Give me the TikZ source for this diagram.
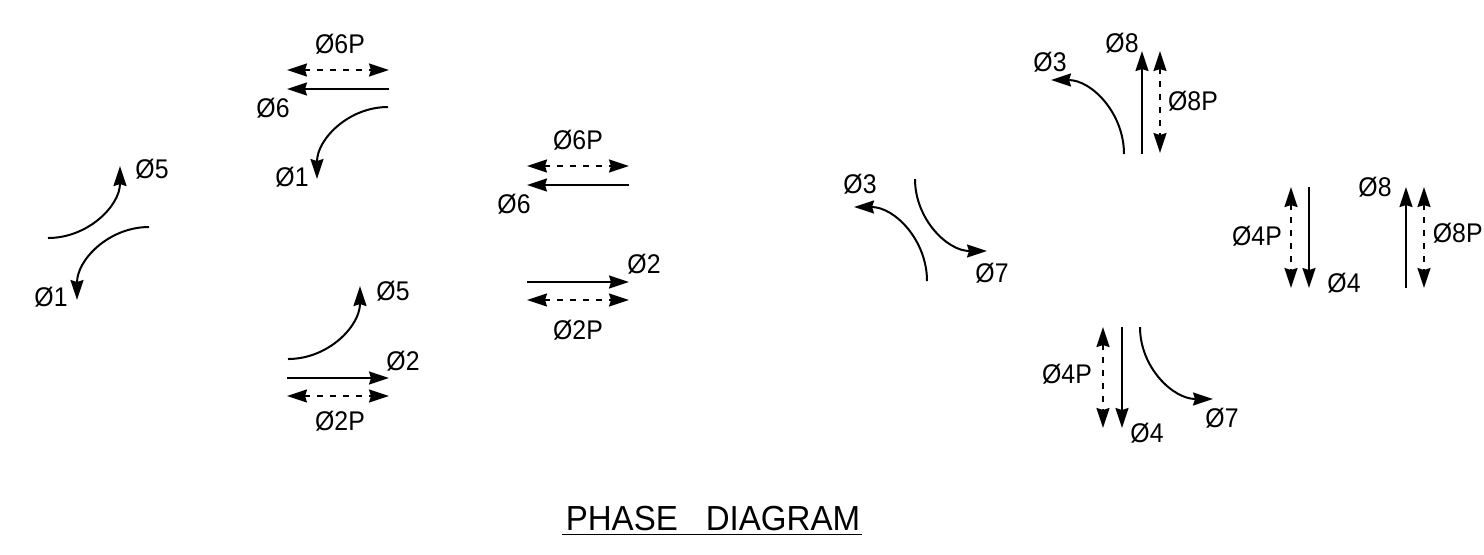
\documentclass[tikz,border=0pt]{standalone}
\usepackage{fontspec}
\setmainfont[FakeStretch=.92]{Liberation Sans}
\newfontfamily\titlefont[FakeStretch=.95]{Liberation Sans}
\usetikzlibrary{arrows.meta}
\tikzset{
  phasetip/.tip={Stealth[length=10pt,width=6.5pt,inset=1pt,quick]},
  phase/.style={line width=1pt,-phasetip},
  phasep/.style={line width=1pt,dash pattern=on 3pt off 3.5pt,phasetip-phasetip}
}

\begin{document}
\begin{tikzpicture}
  [x=.5pt,y=-.5pt,every node/.style={inner sep=0pt,font=\fontsize{13.5}{15}\selectfont}]
  \useasboundingbox (0,0) rectangle (1484,554);

  % left group
  \node (t51) at (152,169) {Ø5};
  \node (t11) at (51,297) {Ø1};
  \coordinate (a1) at (48,238);   \coordinate (a2) at (120,166);
  \coordinate (b1) at (149,227);  \coordinate (b2) at (77,300);

  % upper and lower west
  \node (t6p1) at (340,44) {Ø6P};
  \node (t61) at (273,108) {Ø6};
  \node (t12) at (292,177) {Ø1};
  \node (t52) at (393,291) {Ø5};
  \node (t21) at (403,361) {Ø2};
  \node (t2p1) at (340,421) {Ø2P};
  \coordinate (c1) at (287,70);   \coordinate (c2) at (389,70);
  \coordinate (d1) at (389,89);   \coordinate (d2) at (287,89);
  \coordinate (e1) at (388,107);  \coordinate (e2) at (317,179);
  \coordinate (f1) at (288,359);  \coordinate (f2) at (360,286);
  \coordinate (g1) at (287,378);  \coordinate (g2) at (389,378);
  \coordinate (h1) at (287,396);  \coordinate (h2) at (389,396);

  % middle group
  \node (t6p2) at (578,140) {Ø6P};
  \node (t62) at (514,204) {Ø6};
  \node (t22) at (644,264) {Ø2};
  \node (t2p2) at (578,330) {Ø2P};
  \coordinate (i1) at (527,166);  \coordinate (i2) at (629,166);
  \coordinate (j1) at (629,185);  \coordinate (j2) at (527,185);
  \coordinate (k1) at (527,282);  \coordinate (k2) at (629,282);
  \coordinate (l1) at (527,300);  \coordinate (l2) at (629,300);

  % east side
  \node (t31) at (860,184) {Ø3};
  \node (t71) at (992,273) {Ø7};
  \node (t32) at (1050,62) {Ø3};
  \node (t81) at (1122,43) {Ø8};
  \node (t8p1) at (1193,101) {Ø8P};
  \coordinate (m1) at (927,281);  \coordinate (m2) at (854,207);
  \coordinate (n1) at (915,179);  \coordinate (n2) at (987,251);
  \coordinate (o1) at (1124,154); \coordinate (o2) at (1051,80);
  \coordinate (p1) at (1142,154); \coordinate (p2) at (1142,51);
  \coordinate (q1) at (1160,51);  \coordinate (q2) at (1160,153);

  % south and right pairs
  \node (t4p1) at (1067,374) {Ø4P};
  \node (t41) at (1147,433) {Ø4};
  \node (t72) at (1222,418) {Ø7};
  \node (t4p2) at (1257,236) {Ø4P};
  \node (t42) at (1344,283) {Ø4};
  \node (t82) at (1375,187) {Ø8};
  \node[anchor=east] (t8p2) at (1483,233) {Ø8P};
  \coordinate (r1) at (1103,327); \coordinate (r2) at (1103,428);
  \coordinate (s1) at (1122,327); \coordinate (s2) at (1122,428);
  \coordinate (u1) at (1140,327); \coordinate (u2) at (1213,399);
  \coordinate (v1) at (1291,187); \coordinate (v2) at (1291,288);
  \coordinate (w1) at (1309,187); \coordinate (w2) at (1309,288);
  \coordinate (x1) at (1406,288); \coordinate (x2) at (1406,187);
  \coordinate (y1) at (1424,187); \coordinate (y2) at (1424,288);

  \node (title) at (712,521) {\titlefont\fontsize{17.4}{19}\selectfont\underline{\kern2pt PHASE\kern14pt DIAGRAM\kern1pt}};

  \foreach \from/\to/\o/\i in {a1/a2/0/-90,b1/b2/180/90,e1/e2/180/90,f1/f2/0/-90,
      m1/m2/90/0,n1/n2/-90/180,o1/o2/90/0,u1/u2/-90/180}
    \draw[phase] (\from) to[out=\o,in=\i] (\to);

  \foreach \from/\to in {d1/d2,g1/g2,j1/j2,k1/k2,p1/p2,s1/s2,w1/w2,x1/x2}
    \draw[phase] (\from) -- (\to);

  \foreach \from/\to in {c1/c2,h1/h2,i1/i2,l1/l2,q1/q2,r1/r2,v1/v2,y1/y2}
    \draw[phasep] (\from) -- (\to);

\end{tikzpicture}
\end{document}
